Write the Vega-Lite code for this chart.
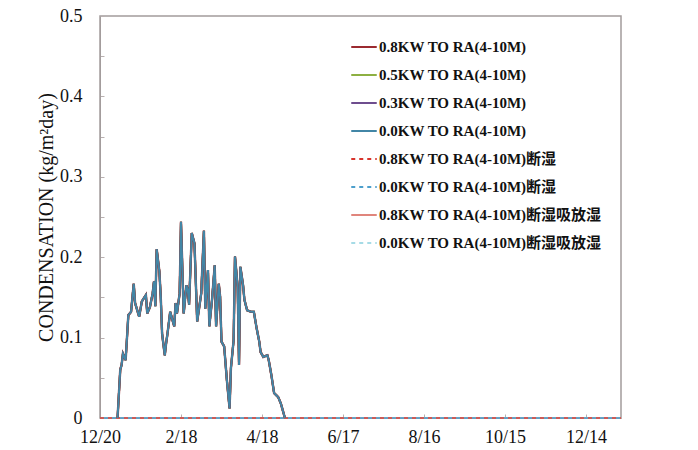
{
  "$schema": "https://vega.github.io/schema/vega-lite/v6.json",
  "width": 521,
  "height": 402,
  "autosize": "none",
  "padding": {"left": 100, "top": 16, "right": 77, "bottom": 32},
  "background": "white",
  "config": {
    "view": {"stroke": "#a39c9c", "strokeWidth": 1.5},
    "font": "Liberation Serif"
  },
  "datasets": {
    "curve": [
      {"date": "2020-01-02", "v": 0},
      {"date": "2020-01-04", "v": 0.06},
      {"date": "2020-01-05", "v": 0.066},
      {"date": "2020-01-06", "v": 0.08},
      {"date": "2020-01-08", "v": 0.072},
      {"date": "2020-01-10", "v": 0.128},
      {"date": "2020-01-12", "v": 0.132},
      {"date": "2020-01-14", "v": 0.167},
      {"date": "2020-01-15", "v": 0.143},
      {"date": "2020-01-18", "v": 0.126},
      {"date": "2020-01-20", "v": 0.145},
      {"date": "2020-01-23", "v": 0.153},
      {"date": "2020-01-24", "v": 0.13},
      {"date": "2020-01-26", "v": 0.138},
      {"date": "2020-01-28", "v": 0.155},
      {"date": "2020-01-29", "v": 0.17},
      {"date": "2020-01-30", "v": 0.139},
      {"date": "2020-01-31", "v": 0.21},
      {"date": "2020-02-02", "v": 0.182},
      {"date": "2020-02-03", "v": 0.151},
      {"date": "2020-02-04", "v": 0.105},
      {"date": "2020-02-06", "v": 0.078},
      {"date": "2020-02-07", "v": 0.093},
      {"date": "2020-02-08", "v": 0.105},
      {"date": "2020-02-10", "v": 0.132},
      {"date": "2020-02-11", "v": 0.126},
      {"date": "2020-02-13", "v": 0.114},
      {"date": "2020-02-14", "v": 0.143},
      {"date": "2020-02-15", "v": 0.13},
      {"date": "2020-02-17", "v": 0.155},
      {"date": "2020-02-18", "v": 0.244},
      {"date": "2020-02-20", "v": 0.13},
      {"date": "2020-02-22", "v": 0.165},
      {"date": "2020-02-23", "v": 0.16},
      {"date": "2020-02-24", "v": 0.141},
      {"date": "2020-02-26", "v": 0.23},
      {"date": "2020-02-28", "v": 0.217},
      {"date": "2020-03-01", "v": 0.12},
      {"date": "2020-03-04", "v": 0.155},
      {"date": "2020-03-06", "v": 0.233},
      {"date": "2020-03-07", "v": 0.136},
      {"date": "2020-03-09", "v": 0.184},
      {"date": "2020-03-10", "v": 0.114},
      {"date": "2020-03-12", "v": 0.147},
      {"date": "2020-03-14", "v": 0.19},
      {"date": "2020-03-15", "v": 0.114},
      {"date": "2020-03-17", "v": 0.167},
      {"date": "2020-03-18", "v": 0.151},
      {"date": "2020-03-19", "v": 0.095},
      {"date": "2020-03-21", "v": 0.089},
      {"date": "2020-03-23", "v": 0.047},
      {"date": "2020-03-25", "v": 0.012},
      {"date": "2020-03-26", "v": 0.062},
      {"date": "2020-03-28", "v": 0.097},
      {"date": "2020-03-29", "v": 0.201},
      {"date": "2020-03-31", "v": 0.163},
      {"date": "2020-04-01", "v": 0.066},
      {"date": "2020-04-02", "v": 0.188},
      {"date": "2020-04-04", "v": 0.165},
      {"date": "2020-04-05", "v": 0.147},
      {"date": "2020-04-07", "v": 0.134},
      {"date": "2020-04-10", "v": 0.132},
      {"date": "2020-04-12", "v": 0.132},
      {"date": "2020-04-14", "v": 0.112},
      {"date": "2020-04-16", "v": 0.095},
      {"date": "2020-04-17", "v": 0.082},
      {"date": "2020-04-19", "v": 0.076},
      {"date": "2020-04-22", "v": 0.078},
      {"date": "2020-04-23", "v": 0.072},
      {"date": "2020-04-25", "v": 0.053},
      {"date": "2020-04-27", "v": 0.031},
      {"date": "2020-04-30", "v": 0.026},
      {"date": "2020-05-02", "v": 0.018},
      {"date": "2020-05-05", "v": 0}
    ],
    "zero": [
      {"date": "2019-12-20", "v": 0},
      {"date": "2021-01-09", "v": 0}
    ]
  },
  "encoding": {
    "x": {
      "field": "date",
      "type": "temporal",
      "scale": {"type": "utc", "domain": [{"year": 2019, "month": 12, "date": 20, "utc": true}, {"year": 2021, "month": 1, "date": 9, "utc": true}]},
      "axis": {
        "title": null,
        "values": [
          {"year": 2019, "month": 12, "date": 20, "utc": true},
          {"year": 2020, "month": 2, "date": 18, "utc": true},
          {"year": 2020, "month": 4, "date": 18, "utc": true},
          {"year": 2020, "month": 6, "date": 17, "utc": true},
          {"year": 2020, "month": 8, "date": 16, "utc": true},
          {"year": 2020, "month": 10, "date": 15, "utc": true},
          {"year": 2020, "month": 12, "date": 14, "utc": true}
        ],
        "labelExpr": "utcFormat(datum.value, '%-m/%-d')",
        "grid": false,
        "domainColor": "#a39c9c",
        "tickColor": "#b8b0b0",
        "tickSize": -4,
        "labelFont": "Liberation Serif",
        "labelFontSize": 18,
        "labelColor": "#111",
        "labelPadding": 14,
        "labelFlush": false
      }
    },
    "y": {
      "field": "v",
      "type": "quantitative",
      "scale": {"domain": [0, 0.5]},
      "axis": {
        "title": "CONDENSATION (kg/m²day)",
        "titleFont": "Liberation Serif",
        "titleFontSize": 20,
        "titleFontWeight": "normal",
        "titleColor": "#111",
        "titlePadding": 3,
        "values": [0, 0.05, 0.1, 0.15, 0.2, 0.25, 0.3, 0.35, 0.4, 0.45, 0.5],
        "labelExpr": "round(datum.value * 20) % 2 == 0 ? format(datum.value, '') : ''",
        "grid": false,
        "domainColor": "#a39c9c",
        "tickColor": "#b8b0b0",
        "tickSize": -4,
        "labelFont": "Liberation Serif",
        "labelFontSize": 18,
        "labelColor": "#111",
        "labelPadding": 22
      }
    }
  },
  "layer": [
    {
      "data": {"name": "zero"},
      "mark": {"type": "line", "strokeWidth": 1.5, "clip": false},
      "encoding": {
        "color": {"datum": "0.0KW TO RA(4-10M)断湿吸放湿"},
        "strokeDash": {"datum": "0.0KW TO RA(4-10M)断湿吸放湿"}
      }
    },
    {
      "data": {"name": "zero"},
      "mark": {"type": "line", "strokeWidth": 1.5, "clip": false},
      "encoding": {
        "color": {"datum": "0.8KW TO RA(4-10M)断湿"},
        "strokeDash": {"datum": "0.8KW TO RA(4-10M)断湿"}
      }
    },
    {
      "data": {"name": "zero"},
      "mark": {"type": "line", "strokeWidth": 1.5, "clip": false, "strokeDashOffset": 4},
      "encoding": {
        "color": {"datum": "0.0KW TO RA(4-10M)断湿"},
        "strokeDash": {"datum": "0.0KW TO RA(4-10M)断湿"}
      }
    },
    {
      "data": {"name": "curve"},
      "mark": {"type": "line", "strokeWidth": 2},
      "encoding": {
        "color": {"datum": "0.8KW TO RA(4-10M)断湿吸放湿"},
        "strokeDash": {"datum": "0.8KW TO RA(4-10M)断湿吸放湿"}
      }
    },
    {
      "data": {"name": "curve"},
      "mark": {"type": "line", "strokeWidth": 2},
      "encoding": {
        "color": {"datum": "0.3KW TO RA(4-10M)"},
        "strokeDash": {"datum": "0.3KW TO RA(4-10M)"}
      }
    },
    {
      "data": {"name": "curve"},
      "mark": {"type": "line", "strokeWidth": 2},
      "encoding": {
        "color": {"datum": "0.5KW TO RA(4-10M)"},
        "strokeDash": {"datum": "0.5KW TO RA(4-10M)"}
      }
    },
    {
      "data": {"name": "curve"},
      "mark": {"type": "line", "strokeWidth": 2.4},
      "encoding": {
        "color": {"datum": "0.8KW TO RA(4-10M)"},
        "strokeDash": {"datum": "0.8KW TO RA(4-10M)"}
      }
    },
    {
      "data": {"name": "curve"},
      "mark": {"type": "line", "strokeWidth": 2},
      "encoding": {
        "color": {
          "datum": "0.0KW TO RA(4-10M)",
          "scale": {
            "domain": ["0.8KW TO RA(4-10M)", "0.5KW TO RA(4-10M)", "0.3KW TO RA(4-10M)", "0.0KW TO RA(4-10M)", "0.8KW TO RA(4-10M)断湿", "0.0KW TO RA(4-10M)断湿", "0.8KW TO RA(4-10M)断湿吸放湿", "0.0KW TO RA(4-10M)断湿吸放湿"],
            "range": ["#9b2a30", "#8db042", "#6e4d8e", "#4286a6", "#d8342c", "#4d9fcc", "#e0857c", "#a6dbe6"]
          },
          "legend": {
            "title": null,
            "orient": "none",
            "legendX": 250,
            "legendY": 17,
            "symbolType": "stroke",
            "symbolSize": 650,
            "symbolStrokeWidth": 2,
            "labelFont": "Liberation Serif, Noto Sans CJK SC",
            "labelFontSize": 15,
            "labelFontWeight": "bold",
            "labelColor": "#111",
            "labelOffset": 1,
            "rowPadding": 6,
            "labelLimit": 400
          }
        },
        "strokeDash": {
          "datum": "0.0KW TO RA(4-10M)",
          "scale": {
            "domain": ["0.8KW TO RA(4-10M)", "0.5KW TO RA(4-10M)", "0.3KW TO RA(4-10M)", "0.0KW TO RA(4-10M)", "0.8KW TO RA(4-10M)断湿", "0.0KW TO RA(4-10M)断湿", "0.8KW TO RA(4-10M)断湿吸放湿", "0.0KW TO RA(4-10M)断湿吸放湿"],
            "range": [[1, 0], [1, 0], [1, 0], [1, 0], [4, 4], [4, 4], [1, 0], [4, 4]]
          },
          "legend": {
            "title": null,
            "orient": "none",
            "legendX": 250,
            "legendY": 17,
            "symbolType": "stroke",
            "symbolSize": 650,
            "symbolStrokeWidth": 2,
            "labelFont": "Liberation Serif, Noto Sans CJK SC",
            "labelFontSize": 15,
            "labelFontWeight": "bold",
            "labelColor": "#111",
            "labelOffset": 1,
            "rowPadding": 6,
            "labelLimit": 400
          }
        }
      }
    }
  ]
}
